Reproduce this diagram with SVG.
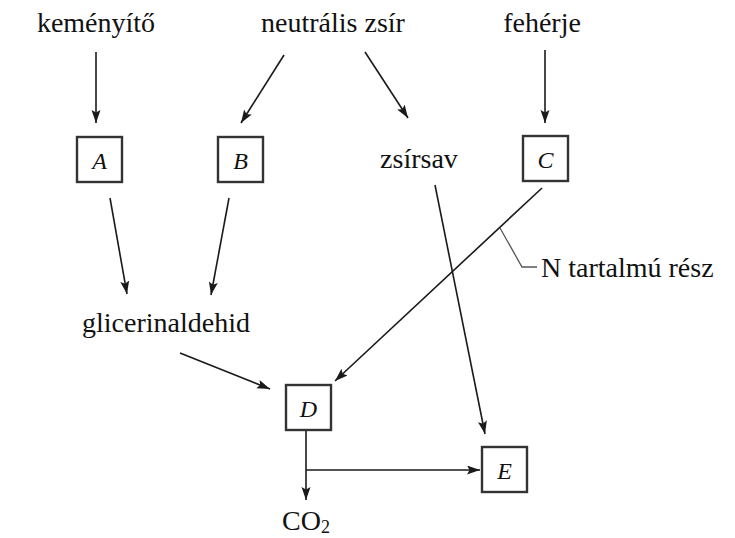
<svg xmlns="http://www.w3.org/2000/svg" width="735" height="538" viewBox="0 0 735 538">
  <style>
    .lbl { font-family: 'Liberation Serif', serif; font-size: 28px; font-style: normal; font-weight: 400; fill: #111; }
    .box { fill: none; stroke: #333; stroke-width: 2.4; }
    .var { font-family: 'Liberation Serif', serif; font-size: 24px; font-style: italic; fill: #111; text-anchor: middle; }
    .edge { fill: none; stroke: #1a1a1a; stroke-width: 1.6; marker-end: url(#arrow); }
    .leader { fill: none; stroke: #555; stroke-width: 1.3; }
  </style>
  <defs>
    <marker id="arrow" markerUnits="userSpaceOnUse" markerWidth="14" markerHeight="10" refX="13" refY="4.5" orient="auto">
      <path d="M0,0 L13,4.5 L0,9 L2.5,4.5 z" fill="#1a1a1a"/>
    </marker>
  </defs>
  <rect width="735" height="538" fill="#ffffff"/>

  <!-- source substances -->
  <g id="kemenyito"><text class="lbl" font-family="Liberation Serif" x="96" y="32" text-anchor="middle">keményítő</text></g>
  <g id="neutralis-zsir"><text class="lbl" font-family="Liberation Serif" x="333" y="32" text-anchor="middle">neutrális zsír</text></g>
  <g id="feherje"><text class="lbl" font-family="Liberation Serif" x="542" y="32" text-anchor="middle">fehérje</text></g>

  <!-- intermediates -->
  <g id="A"><rect class="box" x="77" y="137" width="45" height="45"/><text class="var" x="99.5" y="169">A</text></g>
  <g id="B"><rect class="box" x="218" y="137" width="45" height="45"/><text class="var" x="240.5" y="169">B</text></g>
  <g id="zsirsav"><text class="lbl" font-family="Liberation Serif" x="419" y="168" text-anchor="middle">zsírsav</text></g>
  <g id="C"><rect class="box" x="523" y="136" width="45" height="45"/><text class="var" x="545.5" y="168">C</text></g>
  <g id="glicerinaldehid"><text class="lbl" font-family="Liberation Serif" x="166" y="332" text-anchor="middle">glicerinaldehid</text></g>
  <g id="D"><rect class="box" x="286" y="385" width="45" height="45"/><text class="var" x="308.5" y="417">D</text></g>
  <g id="E"><rect class="box" x="482" y="447" width="45" height="45"/><text class="var" x="504.5" y="479">E</text></g>
  <g id="CO2"><text class="lbl" font-family="Liberation Serif" x="282" y="530">CO<tspan font-size="18" dy="3">2</tspan></text></g>
  <g id="N-tartalmu-resz"><text class="lbl" font-family="Liberation Serif" x="541" y="277">N tartalmú rész</text></g>

  <!-- connectors -->
  <g id="connectors">
    <line class="edge" x1="96" y1="52" x2="96" y2="123"/>
    <line class="edge" x1="284" y1="55" x2="241" y2="123"/>
    <line class="edge" x1="365" y1="52" x2="408" y2="118"/>
    <line class="edge" x1="545" y1="50" x2="545" y2="123"/>
    <line class="edge" x1="110" y1="198" x2="127" y2="294"/>
    <line class="edge" x1="229" y1="198" x2="211" y2="295"/>
    <line class="edge" x1="180" y1="353" x2="270" y2="389"/>
    <line class="edge" x1="542" y1="188" x2="335" y2="381"/>
    <line class="edge" x1="435" y1="185" x2="485" y2="434"/>
    <line class="edge" x1="306" y1="431" x2="306" y2="500"/>
    <line class="edge" x1="306" y1="470" x2="480" y2="470"/>
    <polyline class="leader" points="500,228 522,267 537,267"/>
  </g>
</svg>
